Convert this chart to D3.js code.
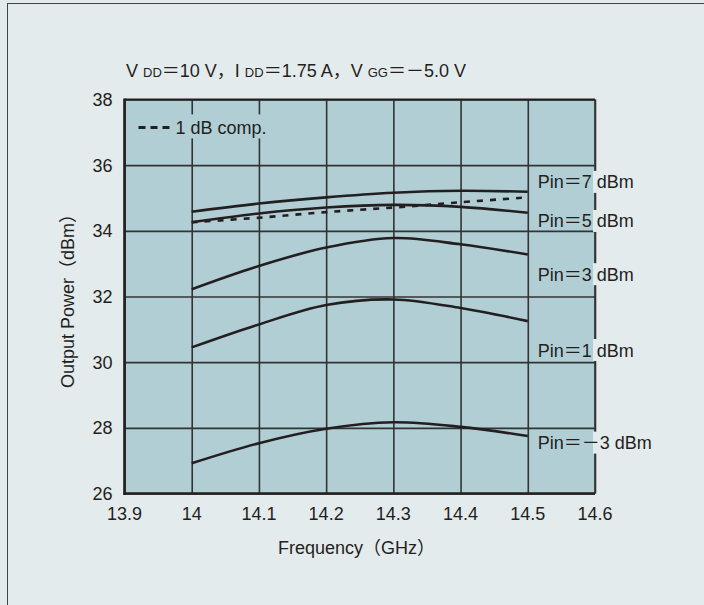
<!DOCTYPE html>
<html>
<head>
<meta charset="utf-8">
<script src="https://cdn.jsdelivr.net/npm/d3@7"></script>
<style>
  body { margin: 0; background: #e4ebed; }
  text { font-family: "Liberation Sans", Arial, sans-serif; fill: #231f20; }
  .fw { font-family: "Noto Sans CJK JP", sans-serif; }
</style>
</head>
<body>
<div id="chart"></div>
<script>
// DATA

var freq = [14.0, 14.1, 14.2, 14.3, 14.4, 14.5]

var pin7 = [34.58, 34.83, 35.02, 35.16, 35.22, 35.19]
var pin5 = [34.26, 34.53, 34.71, 34.79, 34.73, 34.55]
var pin3 = [32.22, 32.93, 33.49, 33.78, 33.59, 33.28]
var pin1 = [30.45, 31.15, 31.74, 31.91, 31.65, 31.25]
var pinM3 = [26.92, 27.53, 27.97, 28.17, 28.03, 27.75]
var comp1dB = [34.26, 34.40, 34.57, 34.71, 34.87, 35.02]

var pinValues = ["7", "5", "3", "1", "－3"]
var xTicks = [13.9, 14.0, 14.1, 14.2, 14.3, 14.4, 14.5, 14.6]
var yTicks = [26, 28, 30, 32, 34, 36, 38]

// DIMENSIONS

var svgWidth = 704
var svgHeight = 605

var margin = { top: 99.5, left: 124.5, right: 109, bottom: 111.5 }
var width = svgWidth - margin.left - margin.right
var height = svgHeight - margin.top - margin.bottom

var plotFill = "#b1ced4"
var outerFill = "#e4ebed"
var ink = "#231f20"
var fs = "18px"

var svg = d3.select("#chart").append("svg")
    .attr("width", svgWidth)
    .attr("height", svgHeight)

// outer panel with its border (only left and top visible in the picture)
svg.append("rect")
    .attr("x", 7.5).attr("y", 3.5)
    .attr("width", 740).attr("height", 640)
    .attr("fill", outerFill)
    .attr("stroke", "#444")
    .attr("stroke-width", 1)

var chartGroup = svg.append("g")
    .attr("transform", `translate(${margin.left}, ${margin.top})`)

var xScale = d3.scaleLinear().domain([13.9, 14.6]).range([0, width])
var yScale = d3.scaleLinear().domain([26, 38]).range([height, 0])

chartGroup.append("rect")
    .attr("width", width)
    .attr("height", height)
    .attr("fill", plotFill)

// grid
chartGroup.append("g")
    .call(d3.axisBottom(xScale).tickValues(xTicks).tickSize(-height).tickFormat(""))
    .attr("transform", `translate(0,${height})`)
    .call(g => g.select(".domain").remove())
    .selectAll("line").attr("stroke", "#333").attr("stroke-width", 1.6)

chartGroup.append("g")
    .call(d3.axisLeft(yScale).tickValues(yTicks).tickSize(-width).tickFormat(""))
    .call(g => g.select(".domain").remove())
    .selectAll("line").attr("stroke", "#333").attr("stroke-width", 1.6)

// tick labels
chartGroup.append("g")
    .selectAll("text")
    .data(yTicks)
    .enter()
    .append("text")
    .attr("x", -12)
    .attr("y", d => yScale(d) + 6.5)
    .attr("text-anchor", "end")
    .style("font-size", fs)
    .text(d => d)

chartGroup.append("g")
    .selectAll("text")
    .data(xTicks)
    .enter()
    .append("text")
    .attr("x", d => xScale(d))
    .attr("y", height + 26)
    .attr("text-anchor", "middle")
    .style("font-size", fs)
    .text(d => d3.format(".1f")(d).replace(/\.0$/, ""))

// legend box (knocks out the grid lines behind it)
var legend = chartGroup.append("g")
    .attr("transform", `translate(12, ${yScale(37.15)})`)

legend.append("rect")
    .attr("x", 0).attr("y", -13)
    .attr("width", 150).attr("height", 24)
    .attr("fill", plotFill)

legend.append("line")
    .attr("x1", 2).attr("x2", 36)
    .attr("y1", 0).attr("y2", 0)
    .attr("stroke", ink)
    .attr("stroke-width", 3)
    .attr("stroke-dasharray", "7,5")

legend.append("text")
    .attr("x", 39)
    .attr("y", 6.5)
    .style("font-size", fs)
    .text("1 dB comp.")

// curves
var line = d3.line()
    .x((d, i) => xScale(freq[i]))
    .y(d => yScale(d))
    .curve(d3.curveCatmullRom.alpha(0.5))

var solid = [pin7, pin5, pin3, pin1, pinM3]

chartGroup.selectAll("path.curve")
    .data(solid)
    .enter()
    .append("path")
    .classed("curve", true)
    .attr("d", line)
    .attr("fill", "none")
    .attr("stroke", ink)
    .attr("stroke-width", 2.6)

chartGroup.append("path")
    .attr("d", line(comp1dB))
    .attr("fill", "none")
    .attr("stroke", ink)
    .attr("stroke-width", 2.6)
    .attr("stroke-dasharray", "6,7")

// frame: top, right, then heavier left and bottom
chartGroup.append("line")
    .attr("x1", 0).attr("x2", width).attr("y1", 0).attr("y2", 0)
    .attr("stroke", ink).attr("stroke-width", 2.2)

chartGroup.append("line")
    .attr("x1", width).attr("x2", width).attr("y1", 0).attr("y2", height)
    .attr("stroke", "#333").attr("stroke-width", 1.6)

chartGroup.append("line")
    .attr("x1", 0).attr("x2", 0).attr("y1", -1).attr("y2", height + 1.5)
    .attr("stroke", ink).attr("stroke-width", 2.6)

chartGroup.append("line")
    .attr("x1", -1).attr("x2", width).attr("y1", height).attr("y2", height)
    .attr("stroke", ink).attr("stroke-width", 2.6)

// series labels at the right edge
var labelY = [35.49, 34.30, 32.68, 30.37, 27.55]

var labels = chartGroup.selectAll("g.lab")
    .data(pinValues)
    .enter()
    .append("g")
    .classed("lab", true)
    .attr("transform", (d, i) => `translate(${xScale(14.5) + 10}, ${yScale(labelY[i])})`)

labels.append("rect")
    .attr("x", width - xScale(14.5) - 12)
    .attr("y", -11)
    .attr("width", 4)
    .attr("height", 22)
    .attr("fill", outerFill)

var labText = labels.append("text")
    .attr("y", 6.5)
    .style("font-size", fs)

labText.append("tspan").text("Pin")
labText.append("tspan").classed("fw", true).text(d => "＝" + (d[0] === "－" ? "－" : ""))
labText.append("tspan").text(d => d.replace("－", "") + " dBm")

// title
var title = svg.append("text")
    .attr("x", 126)
    .attr("y", 77)
    .style("font-size", fs)

var sub = "13px"
title.append("tspan").text("V ")
title.append("tspan").style("font-size", sub).text("DD")
title.append("tspan").classed("fw", true).text("＝")
title.append("tspan").text("10 V")
title.append("tspan").classed("fw", true).text("，")
title.append("tspan").text("I ")
title.append("tspan").style("font-size", sub).text("DD")
title.append("tspan").classed("fw", true).text("＝")
title.append("tspan").text("1.75 A")
title.append("tspan").classed("fw", true).text("，")
title.append("tspan").text("V ")
title.append("tspan").style("font-size", sub).text("GG")
title.append("tspan").classed("fw", true).text("＝－")
title.append("tspan").text("5.0 V")

// axis titles
var yTitle = svg.append("text")
    .attr("transform", `translate(74, ${margin.top + height / 2}) rotate(-90)`)
    .attr("text-anchor", "middle")
    .style("font-size", fs)
yTitle.append("tspan").text("Output Power")
yTitle.append("tspan").classed("fw", true).text("（")
yTitle.append("tspan").text("dBm")
yTitle.append("tspan").classed("fw", true).text("）")

var xTitle = svg.append("text")
    .attr("x", 278)
    .attr("y", 554)
    .style("font-size", fs)
xTitle.append("tspan").text("Frequency")
xTitle.append("tspan").classed("fw", true).text("（")
xTitle.append("tspan").text("GHz")
xTitle.append("tspan").classed("fw", true).text("）")
</script>
</body>
</html>
